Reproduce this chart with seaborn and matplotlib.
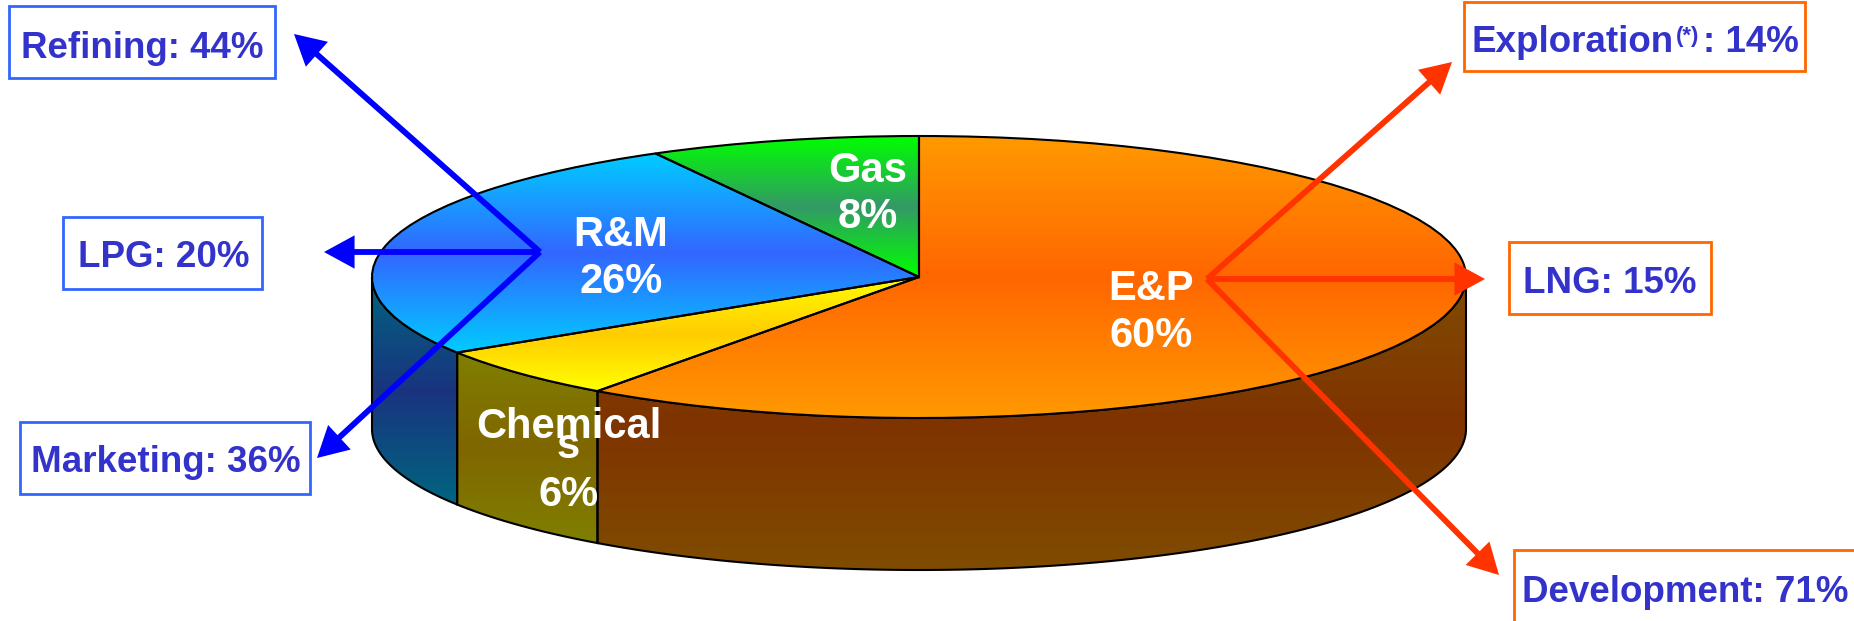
import numpy as np
import matplotlib
matplotlib.use("Agg")
import matplotlib.pyplot as plt
from matplotlib.colors import to_rgb
from matplotlib.patches import Polygon, Rectangle
import seaborn as sns

# Capital split by segment, clockwise from twelve o'clock
segments = ["E&P", "Chemicals", "R&M", "Gas"]
shares = [60, 6, 26, 8]
edge_colors = ["#FF9900", "#FFFF00", "#00CCFF", "#00FF00"]
mid_colors = ["#FF6600", "#FFCC00", "#3366FF", "#339966"]

# Breakdown of the two large segments
rm_names = ["Refining", "LPG", "Marketing"]
rm_shares = [44, 20, 36]
ep_names = ["Exploration", "LNG", "Development"]
ep_shares = [14, 15, 71]

W, H = 1854, 621
CX, CY, RX, RY, DEPTH = 919.0, 277.0, 547.0, 141.0, 152.0
TEXT_BLUE = "#3333CC"
FONT = "Liberation Sans"
OUTLINE = 1.5

sns.set_theme(style="white")
plt.rcParams["font.family"] = [FONT, "DejaVu Sans"]

fig = plt.figure(figsize=(W / 100, H / 100), dpi=100, facecolor="white")

# Disc axes: the unit circle lands on the tilted ellipse of the pie top
ax = fig.add_axes([0, 0, 1, 1])
wedges, _ = ax.pie(shares, startangle=90, counterclock=False, radius=1.0,
                   wedgeprops=dict(edgecolor="black", linewidth=OUTLINE))
ax.set_aspect("auto")
xlim = ((0 - CX) / RX, (W - CX) / RX)
ylim = ((CY - H) / RY, CY / RY)
depth = DEPTH / RY


def gradient_fill(clip, y0, y1, edge, mid, zorder):
    """Vertical edge-mid-edge gradient spanning y0..y1, clipped to a patch."""
    cmap = sns.blend_palette([edge, mid, edge], n_colors=256, as_cmap=True)
    ramp = np.linspace(0, 1, 256).reshape(-1, 1)
    img = ax.imshow(ramp, origin="lower", extent=(-1.02, 1.02, y0, y1),
                    aspect="auto", cmap=cmap, vmin=0, vmax=1, zorder=zorder)
    img.set_clip_path(clip)


for wedge, edge, mid in zip(wedges, edge_colors, mid_colors):
    t1, t2 = wedge.theta1, wedge.theta2

    # Outer wall, only on the front half of the disc
    lo, hi = max(t1, -180.0), min(t2, 0.0)
    if hi > lo:
        t = np.radians(np.linspace(lo, hi, 120))
        upper = np.column_stack([np.cos(t), np.sin(t)])
        lower = upper[::-1] - [0, depth]
        wall = Polygon(np.vstack([upper, lower]), closed=True, facecolor="none",
                       edgecolor="black", linewidth=OUTLINE, zorder=2)
        ax.add_patch(wall)
        ys = np.concatenate([upper[:, 1], lower[:, 1]])
        dark_edge = tuple(c * 0.5 for c in to_rgb(edge))
        dark_mid = tuple(c * 0.5 for c in to_rgb(mid))
        gradient_fill(wall, ys.min(), ys.max(), dark_edge, dark_mid, 1)

    # Top face
    t = np.radians(np.linspace(t1, t2, 240))
    ys = np.append(np.sin(t), 0.0)
    wedge.set_facecolor("none")
    wedge.set_zorder(4)
    gradient_fill(wedge, ys.min(), ys.max(), edge, mid, 3)

ax.set_xlim(*xlim)
ax.set_ylim(*ylim)
ax.axis("off")

# Overlay in figure pixels for captions, callout boxes and arrows
ov = fig.add_axes([0, 0, 1, 1], facecolor="none")
ov.set_xlim(0, W)
ov.set_ylim(H, 0)
ov.axis("off")


def white_label(x, y, s):
    ov.text(x, y, s, color="white", fontsize=30, fontweight="bold",
            ha="center", va="baseline", zorder=6)


white_label(1151, 300, "E&P")
white_label(1151, 347, f"{shares[0]}%")
white_label(569, 438, "Chemical")
white_label(568, 458, "s")
white_label(569, 506, f"{shares[1]}%")
white_label(621, 246, "R&M")
white_label(621, 293, f"{shares[2]}%")
white_label(868, 182, "Gas")
white_label(868, 228, f"{shares[3]}%")


def callout(x0, y0, x1, y1, color):
    ov.add_patch(Rectangle((x0, y0), x1 - x0, y1 - y0, facecolor="white",
                           edgecolor=color, linewidth=2.0, zorder=5))


def box_text(x, y, s, size=26.5, ha="center"):
    ov.text(x, y, s, color=TEXT_BLUE, fontsize=size, fontweight="bold",
            ha=ha, va="baseline", zorder=6)


callout(9, 6, 275, 78, "#3366FF")
box_text(142, 58, f"{rm_names[0]}: {rm_shares[0]}%")
callout(63, 217, 262, 289, "#3366FF")
box_text(164, 267, f"{rm_names[1]}: {rm_shares[1]}%")
callout(20, 422, 310, 494, "#3366FF")
box_text(166, 472, f"{rm_names[2]}: {rm_shares[2]}%")

callout(1464, 2, 1805, 71, "#FF6600")
box_text(1472, 52, ep_names[0], ha="left")
box_text(1676, 42, "(*)", size=16, ha="left")
box_text(1703, 52, f": {ep_shares[0]}%", ha="left")
callout(1509, 242, 1711, 314, "#FF6600")
box_text(1610, 293, f"{ep_names[1]}: {ep_shares[1]}%")
callout(1514, 550, 1870, 640, "#FF6600")
box_text(1685, 602, f"{ep_names[2]}: {ep_shares[2]}%")


def arrow(start, tip, color):
    ov.annotate("", xy=tip, xytext=start, zorder=7,
                arrowprops=dict(width=4.2, headwidth=24, headlength=22,
                                facecolor=color, edgecolor="none", shrink=0))


rm_origin = (540, 252)
for tip in [(294, 34), (324, 252), (317, 458)]:
    arrow(rm_origin, tip, "#0000FF")

ep_origin = (1207, 279)
for tip in [(1452, 62), (1485, 279), (1499, 575)]:
    arrow(ep_origin, tip, "#FF3300")

fig.savefig("out.png", dpi=100, facecolor="white")
